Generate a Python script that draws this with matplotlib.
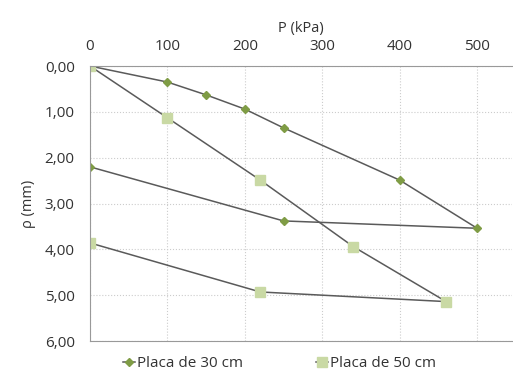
import matplotlib.pyplot as plt
import matplotlib.ticker as mticker

plt.rcParams['font.family'] = ['Open Sans', 'DejaVu Sans']

# Placa de 30 cm (carga / descarga)
p30 = [0, 100, 150, 200, 250, 400, 500, 250, 0]
d30 = [0.00, 0.35, 0.63, 0.94, 1.35, 2.49, 3.54, 3.38, 2.20]

# Placa de 50 cm
p50 = [0, 100, 220, 340, 460, 220, 0]
d50 = [0.00, 1.13, 2.49, 3.94, 5.14, 4.93, 3.86]

xticks = [0, 100, 200, 300, 400, 500]
yticks = [0, 1, 2, 3, 4, 5, 6]

fig = plt.figure(figsize=(5.13, 3.74), dpi=100)
ax = fig.add_axes([0.1754, 0.0882, 0.8226, 0.7353])

ax.plot(p30, d30, color='#5a5a5a', linewidth=1.1, marker='D', markersize=4.5,
        markerfacecolor='#7f9c45', markeredgecolor='#7f9c45', label='Placa de 30 cm')
ax.plot(p50, d50, color='#5a5a5a', linewidth=1.1, marker='s', markersize=6.5,
        markerfacecolor='#c9d9a4', markeredgecolor='#c9d9a4', label='Placa de 50 cm')

ax.set_xlim(0, 545)
ax.set_ylim(6, 0)
ax.set_xticks(xticks)
ax.set_yticks(yticks)
ax.xaxis.tick_top()
ax.xaxis.set_label_position('top')
ax.yaxis.set_major_formatter(mticker.FuncFormatter(lambda v, _: f'{v:.2f}'.replace('.', ',')))
ax.tick_params(length=0, labelsize=11, colors='#333333')
ax.tick_params(axis='y', pad=11)
ax.tick_params(axis='x', pad=9)

ax.set_xlabel('P (kPa)', fontsize=10.5, color='#333333', labelpad=5)
ax.set_ylabel('ρ (mm)', fontsize=10.5, color='#333333', labelpad=6)

ax.grid(True, color='#cccccc', linestyle=':', linewidth=0.8)
for s in ['top', 'left', 'bottom']:
    ax.spines[s].set_color('#999999')
ax.spines['right'].set_visible(False)

fig.legend(loc='lower center', bbox_to_anchor=(0.545, -0.03), ncol=2, frameon=False,
           fontsize=11, handlelength=0.8, handletextpad=0.1, columnspacing=4.8,
           labelcolor='#333333')

fig.savefig('out.png', dpi=100)
